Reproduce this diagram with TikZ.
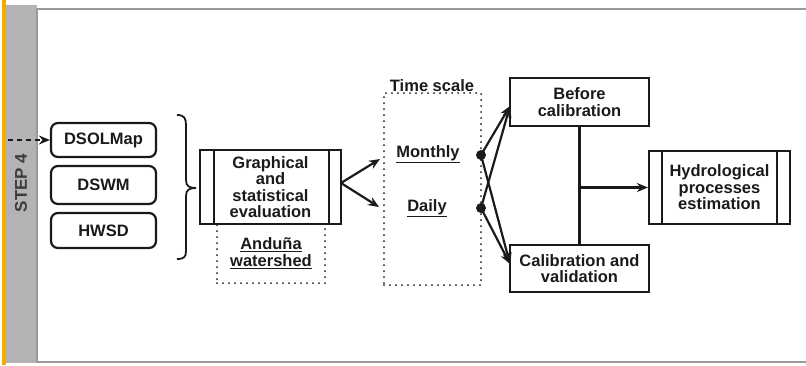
\documentclass[tikz,border=0pt]{standalone}
\usepackage{fontspec}
\setmainfont{Liberation Sans}
\usetikzlibrary{arrows.meta,calc}
\definecolor{stripe}{HTML}{F0AC00}
\definecolor{band}{HTML}{B3B3B3}
\definecolor{ink}{HTML}{1A1A1A}
\definecolor{frameg}{HTML}{9A9A9A}
\tikzset{
  txt/.style={font=\fontsize{16.5}{16.5}\selectfont\bfseries, text=ink, align=center, inner sep=0pt},
  solidbox/.style={txt, draw=ink, line width=2.2pt},
  roundbox/.style={solidbox, rounded corners=7pt},
  dotbox/.style={draw=ink, line width=2pt, line cap=round, dash pattern=on 0pt off 6pt, inner sep=0pt},
  arr/.style={-{Stealth[length=11pt,width=9pt]}, line width=2.2pt, draw=ink},
  ln/.style={line width=2.2pt, draw=ink},
  dot/.style={circle, fill=ink, inner sep=0pt, minimum size=10pt}
}
\begin{document}
\begin{tikzpicture}[x=1pt,y=-1pt]
\useasboundingbox (0,0) rectangle (806,365);
% side band
\fill[stripe] (2,0) rectangle (6,365);
\fill[band] (6,5) rectangle (37,363);
\draw[frameg, line width=1.2pt] (806,9) -- (37,9) -- (37,362) -- (806,362);
\node[rotate=90, font=\fontsize{17}{17}\selectfont\bfseries, text=ink!85] (step) at (21,183) {STEP 4};

% data sources
\node[roundbox, minimum width=105pt, minimum height=34pt] (dsol) at (103.5,140) {DSOLMap};
\node[roundbox, minimum width=105pt, minimum height=38pt] (dswm) at (103.5,185) {DSWM};
\node[roundbox, minimum width=105pt, minimum height=35pt] (hwsd) at (103.5,230.5) {HWSD};
\coordinate (src) at (8,140);
\draw[arr, line width=1.6pt, dash pattern=on 5pt off 4pt] (src) -- (dsol.west);

% brace
\draw[ln, line width=1.8pt] (177,115) .. controls (184,115) and (186,118) .. (186,125) -- (186,180)
  .. controls (186,186) and (189,188) .. (196,188)
  .. controls (189,188) and (186,190) .. (186,196) -- (186,251)
  .. controls (186,257) and (184,259) .. (177,259);

% graphical evaluation
\node[solidbox, minimum width=141pt, minimum height=74pt] (gr) at (270.5,187) {Graphical\\and\\statistical\\evaluation};
\draw[ln] ($(gr.north west)+(15,0)$) -- ($(gr.south west)+(15,0)$);
\draw[ln] ($(gr.north east)+(-13,0)$) -- ($(gr.south east)+(-13,0)$);
\node[dotbox, minimum width=108pt, minimum height=59pt] (and) at (271,253.5) {};
\node[txt] (andt) at (271,253) {\underline{Anduña}\\\underline{watershed}};

% time scale
\node[dotbox, minimum width=97pt, minimum height=192pt] (ts) at (432.5,189) {};
\node[txt] (tsl) at (432,86) {Time scale};
\node[txt] (mon) at (428,154) {\underline{Monthly}};
\node[txt] (day) at (427,208) {\underline{Daily}};
\coordinate (grout) at (341,183);
\coordinate (monin) at (380,159);
\coordinate (dayin) at (379,207);
\draw[arr] (grout) -- (monin);
\draw[arr] (grout) -- (dayin);
\node[dot] (dm) at (481,155) {};
\node[dot] (dd) at (481,208) {};

% calibration
\node[solidbox, minimum width=139pt, minimum height=48pt] (bc) at (579.5,102) {Before\\calibration};
\node[solidbox, minimum width=139pt, minimum height=47pt] (cv) at (579.5,268.5) {Calibration and\\validation};
\coordinate (bcin) at (510,106);
\coordinate (cvin) at (510,264);
\draw[arr] (dm.center) -- (bcin);
\draw[arr] (dd.center) -- (bcin);
\draw[arr] (dm.center) -- (cvin);
\draw[arr] (dd.center) -- (cvin);
\draw[ln] (bc.south) -- (cv.north);

% hydrological
\node[solidbox, minimum width=141pt, minimum height=73pt] (hy) at (719.5,187.5) {Hydrological\\processes\\estimation};
\draw[ln] ($(hy.north west)+(14,0)$) -- ($(hy.south west)+(14,0)$);
\draw[ln] ($(hy.north east)+(-14,0)$) -- ($(hy.south east)+(-14,0)$);
\coordinate (junc) at (bc.south |- hy.west);
\draw[arr] (junc) -- (hy.west);
\end{tikzpicture}
\end{document}
